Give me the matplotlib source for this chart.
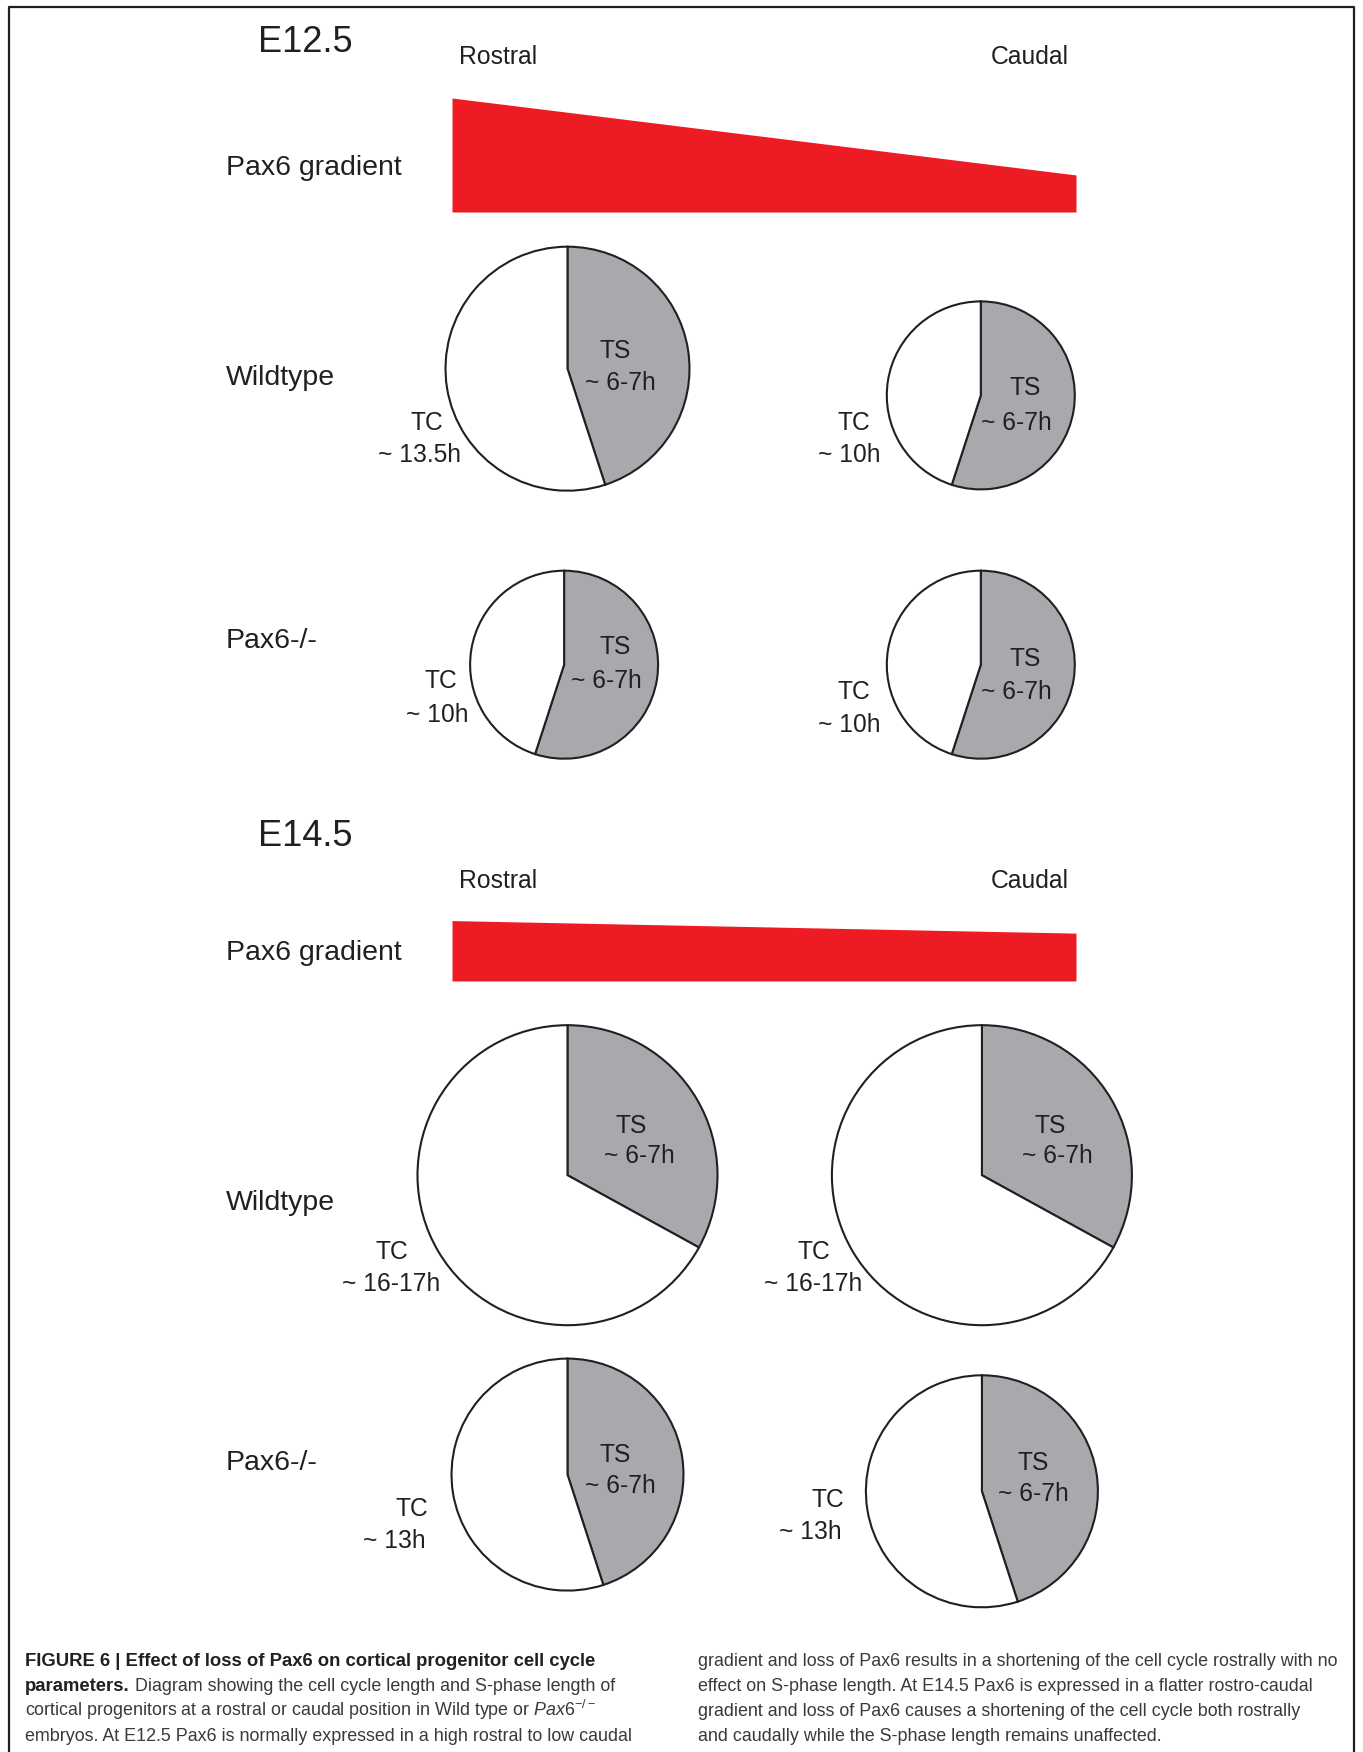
import matplotlib
matplotlib.use("Agg")
import matplotlib.pyplot as plt

"""
    Pax6 gradient and cell cycle pies (figure 6 style)
"""

plt.rcParams['font.family'] = ['Liberation Sans', 'DejaVu Sans']
plt.rcParams['mathtext.fontset'] = 'custom'
plt.rcParams['mathtext.rm'] = 'Liberation Sans'
plt.rcParams['mathtext.it'] = 'Liberation Sans:italic'

W, H = 1363, 1752

stages = ["E12.5", "E14.5"]
positions = ["Rostral", "Caudal"]
genotypes = ["Wildtype", "Pax6-/-"]

# Pax6 level at rostral / caudal end (E12.5 rostral = 1)
pax6_e12 = [1.0, 0.325]
pax6_e14 = [0.53, 0.42]

# fraction of the cycle in S-phase (grey slice)
# order: WT rostral, WT caudal, Pax6-/- rostral, Pax6-/- caudal
ts_share_e12 = [0.45, 0.55, 0.55, 0.55]
ts_share_e14 = [0.33, 0.33, 0.45, 0.45]

ts_text_e12 = ["~ 6-7h", "~ 6-7h", "~ 6-7h", "~ 6-7h"]
ts_text_e14 = ["~ 6-7h", "~ 6-7h", "~ 6-7h", "~ 6-7h"]
tc_text_e12 = ["~ 13.5h", "~ 10h", "~ 10h", "~ 10h"]
tc_text_e14 = ["~ 16-17h", "~ 16-17h", "~ 13h", "~ 13h"]

caption_left = [
    "cortical progenitors at a rostral or caudal position in Wild type or $\\mathit{Pax6}^{-/-}$",
    "embryos. At E12.5 Pax6 is normally expressed in a high rostral to low caudal",
]
caption_right = [
    "gradient and loss of Pax6 results in a shortening of the cell cycle rostrally with no",
    "effect on S-phase length. At E14.5 Pax6 is expressed in a flatter rostro-caudal",
    "gradient and loss of Pax6 causes a shortening of the cell cycle both rostrally",
    "and caudally while the S-phase length remains unaffected.",
]

# layout, pixels from the top left
title_y = [42, 836]
side_y = [57, 881]
side_x = [498, 1030]
grad_label_y = [168, 953]
grad_base = [212, 981]
grad_x = [452, 1076]
grad_scale = 114
geno_y = [[378, 641], [1203, 1463]]
pie_xy = [[(567.5, 368.7), (980.8, 395.4), (564.1, 664.7), (980.8, 664.7)],
          [(567.5, 1175.2), (981.9, 1175.2), (567.5, 1474.6), (981.9, 1491.3)]]
pie_r = [[122, 94, 94, 94], [150, 150, 116, 116]]
ts_xy = [[(615.5, 348.5), (1025.5, 385.4), (615.5, 644.5), (1025.5, 655.7)],
         [(631, 1122.6), (1050, 1122.6), (615.5, 1452), (1033, 1460)]]
ts2_xy = [[(620, 380), (1016.5, 420), (606.6, 678), (1016.5, 689)],
          [(639, 1152.7), (1057.8, 1152.7), (620, 1483.4), (1033, 1491)]]
tc_xy = [[(426.7, 420), (853.4, 420), (441, 678), (853.4, 689)],
         [(392, 1248.7), (814, 1248.7), (412, 1505.7), (827.7, 1497)]]
tc2_xy = [[(419, 452), (849, 452), (436.8, 711.6), (849, 721.6)],
          [(391, 1281), (813, 1281), (394, 1538), (810, 1529)]]

INK = '#231f20'
GREY = '#a7a9ac'
RED = '#ed1c24'
LBL = 17.7


def Y(y):
    return H - y


def TY(y):
    # text sits a touch lower than the measured centre
    return H - y - 3


fig = plt.figure(figsize=(W / 100, H / 100), dpi=100)
ax = fig.add_axes([0, 0, 1, 1])

pax6 = [pax6_e12, pax6_e14]
ts_share = [ts_share_e12, ts_share_e14]
ts_text = [ts_text_e12, ts_text_e14]
tc_text = [tc_text_e12, tc_text_e14]

for s in range(2):
    ax.text(305, Y(title_y[s]), stages[s], fontsize=26, ha='center', va='center', color=INK)
    for p in range(2):
        ax.text(side_x[p], Y(side_y[s]), positions[p], fontsize=17.8, ha='center', va='center', color=INK)
    ax.text(226, Y(grad_label_y[s]), "Pax6 gradient", fontsize=20.5, ha='left', va='center', color=INK)
    # red wedge: height follows the Pax6 level
    base = Y(grad_base[s])
    tops = [base + v * grad_scale for v in pax6[s]]
    ax.fill_between(grad_x, [base, base], tops, color=RED, lw=0)
    for g in range(2):
        ax.text(226, Y(geno_y[s][g]), genotypes[g], fontsize=20.5, ha='left', va='center', color=INK)

    for i in range(4):
        cx, cy = pie_xy[s][i]
        share = ts_share[s][i]
        ax.pie([share, 1 - share], colors=[GREY, 'white'], startangle=90, counterclock=False,
               center=(cx, Y(cy)), radius=pie_r[s][i], frame=True,
               wedgeprops=dict(edgecolor=INK, linewidth=1.5))
        ax.text(ts_xy[s][i][0], TY(ts_xy[s][i][1]), "TS", fontsize=LBL, ha='center', va='center', color=INK)
        ax.text(ts2_xy[s][i][0], TY(ts2_xy[s][i][1]), ts_text[s][i], fontsize=LBL, ha='center', va='center', color=INK)
        ax.text(tc_xy[s][i][0], TY(tc_xy[s][i][1]), "TC", fontsize=LBL, ha='center', va='center', color=INK)
        ax.text(tc2_xy[s][i][0], TY(tc2_xy[s][i][1]), tc_text[s][i], fontsize=LBL, ha='center', va='center', color=INK)

# frame round the figure
ax.plot([9, 9, 1354, 1354], [Y(1752), Y(7), Y(7), Y(1752)], color=INK, lw=1.6)

# caption
cap_y = [1666, 1691, 1716, 1741]
bfs = 13.3
cfs = 12.9
t = ax.text(25, Y(cap_y[0]), "FIGURE 6 | Effect of loss of Pax6 on cortical progenitor cell cycle",
            fontsize=bfs, fontweight='bold', color=INK, va='baseline')
t = ax.text(25, Y(cap_y[1]), "parameters.", fontsize=bfs, fontweight='bold', color=INK, va='baseline')
ax.annotate(" Diagram showing the cell cycle length and S-phase length of", xy=(1, Y(cap_y[1])),
            xycoords=(t, 'data'), fontsize=cfs, color='#3a3a3a', va='baseline')
for k, line in enumerate(caption_left):
    ax.text(25, Y(cap_y[2 + k]), line, fontsize=cfs, color='#3a3a3a', va='baseline')
for k, line in enumerate(caption_right):
    ax.text(698, Y(cap_y[k]), line, fontsize=cfs, color='#3a3a3a', va='baseline')

ax.set_xlim(0, W)
ax.set_ylim(0, H)
ax.set_aspect('equal')
ax.axis('off')

fig.savefig("out.png", dpi=100)
